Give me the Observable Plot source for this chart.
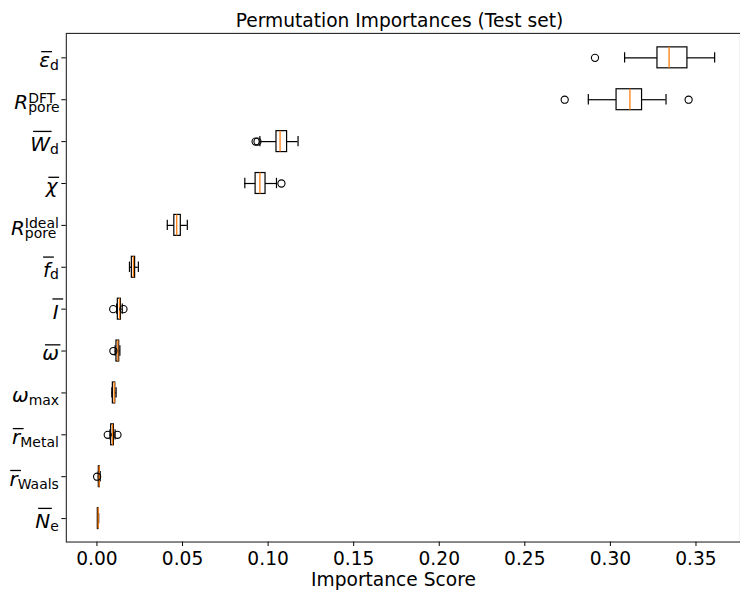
<!DOCTYPE html>
<html><head><meta charset="utf-8">
<script src="https://cdn.jsdelivr.net/npm/d3@7"></script>
<script src="https://cdn.jsdelivr.net/npm/@observablehq/plot@0.6"></script>
<style>html,body{margin:0;padding:0;overflow:hidden;background:#fff;}</style>
</head><body><div id="chart"></div>
<script>
// ---- data ----
const features   = ["eps_d","R_DFT","W_d","chi","R_ideal","f_d","I","omega","omega_max","r_Metal","r_Waals","N_e"];
const labelBase  = ["ε","R","W","χ","R","f","I","ω","ω","r","r","N"];
const labelSub   = ["d","pore","d","","pore","d","","","max","Metal","Waals","e"];
const labelSup   = ["","DFT","","","Ideal","","","","","","",""];
const labelBar   = ["bar","","overline","bar","","bar","bar","overline","","bar","bar","overline"];

const whiskerLow  = [0.3083,0.2871,0.0952,0.0864,0.0411,0.0190,0.0115,0.0106,0.0087,0.0076,0.0008,0.0004];
const q1          = [0.3275,0.3036,0.1049,0.0927,0.0452,0.0204,0.0122,0.0114,0.0093,0.0083,0.0011,0.0005];
const median      = [0.3343,0.3114,0.1070,0.0952,0.0466,0.0213,0.0132,0.0122,0.0101,0.0091,0.0013,0.0007];
const q3          = [0.3450,0.3185,0.1111,0.0985,0.0490,0.0223,0.0140,0.0130,0.0107,0.0099,0.0016,0.0009];
const whiskerHigh = [0.3609,0.3325,0.1175,0.1049,0.0528,0.0242,0.0148,0.0134,0.0112,0.0106,0.0019,0.0010];

const outlierFeature = ["eps_d","R_DFT","R_DFT","W_d","W_d","chi","I","I","omega","r_Metal","r_Metal","r_Waals"];
const outlierValue   = [0.2910,0.2733,0.3457,0.0927,0.0938,0.1078,0.0095,0.0155,0.0096,0.0063,0.0120,0.0001];

const xTicks = [0.00,0.05,0.10,0.15,0.20,0.25,0.30,0.35];
const titleText = "Permutation Importances (Test set)";
const xLabelText = "Importance Score";

// ---- chart ----
const fs = 18.7;      // title, x ticks, x label
const yfs = 20;       // math-style y tick labels
const idx = d3.range(features.length);
const oidx = d3.range(outlierValue.length);
const Y = i => features[i];
const black = "#000";
const capInset = 5.3;

const chart = Plot.plot({
  width: 742, height: 592,
  marginLeft: 66, marginRight: 0, marginTop: 33, marginBottom: 49,
  style: {fontFamily: "'DejaVu Sans', sans-serif", fontSize: fs + "px", background: "#fff", color: "#000", overflow: "visible"},
  x: {domain: [-0.01789, 0.37601]},
  y: {type: "band", domain: features, paddingInner: 0.5, paddingOuter: 0.25, align: 0.5},
  marks: [
    Plot.axisX({ticks: xTicks, tickFormat: d3.format(".2f"), tickSize: 4.5, tickPadding: 5, fontSize: fs, label: null}),
    Plot.axisY({tickSize: 4.5, tickPadding: 3, fontSize: yfs, label: null, tickFormat: d => d}),
    Plot.barX(idx, {y: Y, x1: i => q1[i], x2: i => q3[i], fill: "none", stroke: black, strokeWidth: 1.2}),
    Plot.ruleY(idx, {y: Y, x1: i => whiskerLow[i], x2: i => q1[i], stroke: black, strokeWidth: 1.2}),
    Plot.ruleY(idx, {y: Y, x1: i => q3[i], x2: i => whiskerHigh[i], stroke: black, strokeWidth: 1.2}),
    Plot.tickX(idx, {y: Y, x: i => whiskerLow[i], insetTop: capInset, insetBottom: capInset, stroke: black, strokeWidth: 1.2}),
    Plot.tickX(idx, {y: Y, x: i => whiskerHigh[i], insetTop: capInset, insetBottom: capInset, stroke: black, strokeWidth: 1.2}),
    Plot.tickX(idx, {y: Y, x: i => median[i], stroke: "#ff7f0e", strokeWidth: 1.3}),
    Plot.dot(oidx, {y: j => outlierFeature[j], x: j => outlierValue[j], r: 3.6, stroke: black, fill: "none", strokeWidth: 1.1}),
    Plot.frame({stroke: "#262626", strokeWidth: 1.1}),
    Plot.text([titleText], {text: d => d, frameAnchor: "top", lineAnchor: "middle", dy: -12.5, dx: -4, fontSize: fs, fill: "#000"}),
    Plot.text([xLabelText], {text: d => d, frameAnchor: "bottom", lineAnchor: "middle", dy: 38, dx: -10, fontSize: fs, fill: "#000"})
  ]
});
document.getElementById("chart").appendChild(chart);

// ---- math-style y tick labels ----
const NS = "http://www.w3.org/2000/svg";
const tallBase = new Set(["W","N","I","f","R"]);
chart.querySelectorAll('[aria-label="y-axis tick label"] text').forEach(t => {
  const i = features.indexOf(t.textContent);
  if (i < 0) return;
  const b0 = t.getBBox();
  const right = b0.x + b0.width;
  const centerY = b0.y + b0.height / 2;
  while (t.firstChild) t.removeChild(t.firstChild);
  t.setAttribute("text-anchor", "start");
  t.setAttribute("font-size", yfs + "px");
  const mk = (s, attrs) => {
    const e = document.createElementNS(NS, "tspan");
    e.textContent = s;
    for (const k in attrs) e.setAttribute(k, attrs[k]);
    t.appendChild(e);
    return e;
  };
  mk(labelBase[i], {"font-style": "italic"});
  const small = (yfs * 0.7) + "px";
  if (labelSub[i]) {
    const sub = mk(labelSub[i], {"font-size": small, dy: labelSup[i] ? 3.2 : 2.8});
    if (labelSup[i]) {
      const w = sub.getComputedTextLength();
      mk(labelSup[i], {"font-size": small, dx: -w, dy: -9.8});
    }
  }
  const b1 = t.getBBox();
  const base = t.getStartPositionOfChar(0);
  const shiftX = right - (b1.x + b1.width);
  const shiftY = centerY + 10 - base.y;
  const g = document.createElementNS(NS, "g");
  const tr = t.getAttribute("transform");
  g.setAttribute("transform", (tr ? tr + " " : "") + `translate(${shiftX},${shiftY})`);
  t.removeAttribute("transform");
  t.parentNode.insertBefore(g, t);
  g.appendChild(t);
  if (labelBar[i]) {
    const ext = t.getExtentOfChar(0);
    const tall = tallBase.has(labelBase[i]);
    const yb = base.y - (tall ? 0.98 : 0.78) * yfs;
    let x1, x2;
    if (labelBar[i] === "overline") { x1 = ext.x + 0.14 * yfs; x2 = ext.x + ext.width + 0.08 * yfs; }
    else { const c = ext.x + ext.width / 2 + 0.1 * yfs; x1 = c - 0.27 * yfs; x2 = c + 0.27 * yfs; }
    const ln = document.createElementNS(NS, "line");
    ln.setAttribute("x1", x1); ln.setAttribute("x2", x2);
    ln.setAttribute("y1", yb); ln.setAttribute("y2", yb);
    ln.setAttribute("stroke", "#000"); ln.setAttribute("stroke-width", 1.3);
    g.appendChild(ln);
  }
});
</script>
</body></html>
